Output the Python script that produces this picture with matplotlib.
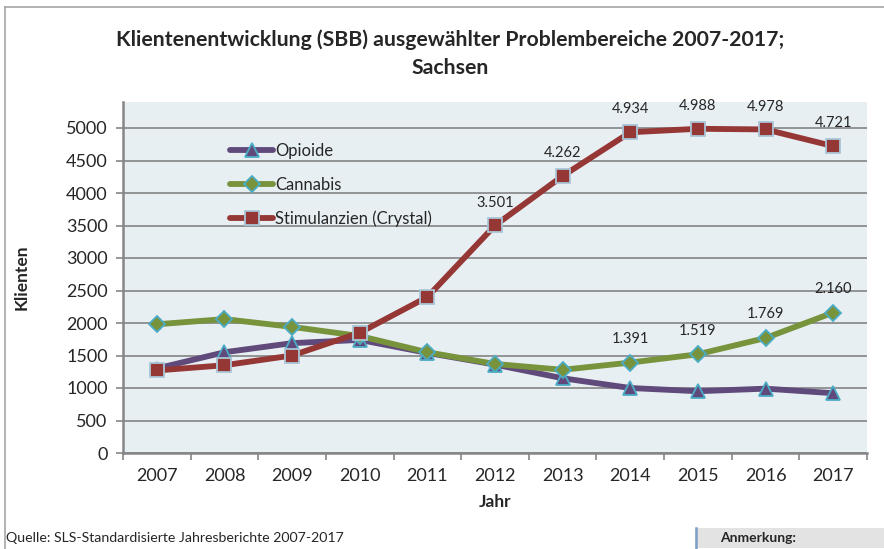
import matplotlib
matplotlib.use("Agg")
import matplotlib.pyplot as plt
from matplotlib.lines import Line2D
from matplotlib.patches import Rectangle

plt.rcParams['font.family'] = ['Lato', 'DejaVu Sans']

years = ['2007', '2008', '2009', '2010', '2011', '2012', '2013', '2014', '2015', '2016', '2017']
opioide = [1300, 1550, 1690, 1740, 1540, 1360, 1150, 1000, 950, 990, 920]
cannabis = [1980, 2060, 1940, 1800, 1550, 1370, 1280, 1391, 1519, 1769, 2160]
stimulanzien = [1270, 1350, 1500, 1850, 2400, 3501, 4262, 4934, 4988, 4978, 4721]
stim_label_from = 5
cann_label_from = 7
y_ticks = [0, 500, 1000, 1500, 2000, 2500, 3000, 3500, 4000, 4500, 5000]

W, H = 884, 549
fig = plt.figure(figsize=(W / 100, H / 100), dpi=100)
ax = fig.add_axes([123 / W, 1 - 453 / H, (867 - 123) / W, (453 - 102) / H])
ax.set_facecolor('#E8EFF3')

x = list(range(len(years)))
lw = 4.2
l1, = ax.plot(x, opioide, color='#604A7B', lw=lw, marker='^', ms=10,
              mfc='#604A7B', mec='#4BACC6', mew=1.3, solid_capstyle='round',
              label='Opioide', zorder=3)
l2, = ax.plot(x, cannabis, color='#77933C', lw=lw, marker='D', ms=8.5,
              mfc='#77933C', mec='#4BACC6', mew=1.3, solid_capstyle='round',
              label='Cannabis', zorder=4)
l3, = ax.plot(x, stimulanzien, color='#953735', lw=lw, marker='s', ms=10,
              mfc='#953735', mec='#A9C6D8', mew=1.3, solid_capstyle='round',
              label='Stimulanzien (Crystal)', zorder=5)

def fmt(v):
    return f"{v:,}".replace(',', '.')

for i in range(stim_label_from, len(years)):
    ax.annotate(fmt(stimulanzien[i]), (x[i], stimulanzien[i]), xytext=(0, 16.5),
                textcoords='offset points', ha='center', va='center',
                fontsize=10.5, color='#262626', zorder=6)
for i in range(cann_label_from, len(years)):
    ax.annotate(fmt(cannabis[i]), (x[i], cannabis[i]), xytext=(0, 17),
                textcoords='offset points', ha='center', va='center',
                fontsize=10.5, color='#262626', zorder=6)

ax.set_xlim(-0.5, len(years) - 0.5)
ax.set_ylim(0, 5400)
ax.set_yticks(y_ticks)
ax.set_yticklabels([str(v) for v in y_ticks], fontsize=13, color='#262626')
ax.set_xticks(x)
ax.set_xticklabels(years, fontsize=13, color='#262626')
ax.tick_params(axis='x', length=0, pad=11)
ax.set_xticks([i - 0.5 for i in range(len(years) + 1)], minor=True)
ax.tick_params(axis='x', which='minor', length=5, color='#868686', width=1.2)
ax.tick_params(axis='y', length=5, color='#868686', width=1.2, pad=6)
ax.grid(axis='y', color='#8C8C8C', lw=1.3, zorder=1)
ax.set_axisbelow(True)
for s in ['top', 'right']:
    ax.spines[s].set_visible(False)
for s in ['left', 'bottom']:
    ax.spines[s].set_color('#868686')
    ax.spines[s].set_linewidth(1.8)

ax.set_ylabel('Klienten', fontsize=12.5, fontweight='bold', color='#262626', labelpad=26)
ax.set_xlabel('Jahr', fontsize=12.5, fontweight='bold', color='#262626', labelpad=7)

leg = ax.legend(handles=[l1, l2, l3], loc='upper left',
                bbox_to_anchor=((230 - 123) / (867 - 123), (453 - 143) / (453 - 102)),
                frameon=False, fontsize=12, handlelength=2.6, handletextpad=0.1,
                labelspacing=1.05, borderaxespad=0, borderpad=0)
for t in leg.get_texts():
    t.set_color('#262626')

fig.text(450 / W, 1 - 40 / H, 'Klientenentwicklung (SBB) ausgewählter Problembereiche 2007-2017;',
         ha='center', va='center', fontsize=15.3, fontweight='bold', color='#262626')
fig.text(450 / W, 1 - 68 / H, 'Sachsen', ha='center', va='center',
         fontsize=15.3, fontweight='bold', color='#262626')

fig.text(6 / W, 1 - 538 / H, 'Quelle: SLS-Standardisierte Jahresberichte 2007-2017',
         ha='left', va='center', fontsize=10.2, color='#262626')

fig.add_artist(Rectangle((695 / W, 1 - 548 / H), (884 - 695) / W, 20 / H,
                         transform=fig.transFigure, facecolor='#E3E3E3', edgecolor='none'))
fig.add_artist(Line2D([696 / W, 696 / W], [1 - 548 / H, 1 - 528 / H],
                      transform=fig.transFigure, color='#7F9FC8', lw=1.8))
fig.text(720 / W, 1 - 538 / H, 'Anmerkung:', ha='left', va='center',
         fontsize=10, fontweight='bold', color='#262626')

fig.add_artist(Line2D([5 / W, 5 / W], [0, 1 - 7 / H], transform=fig.transFigure,
                      color='#A6A6A6', lw=1.2))
fig.add_artist(Line2D([5 / W, 1], [1 - 7 / H, 1 - 7 / H], transform=fig.transFigure,
                      color='#A6A6A6', lw=1.2))

fig.savefig('out.png', dpi=100)
